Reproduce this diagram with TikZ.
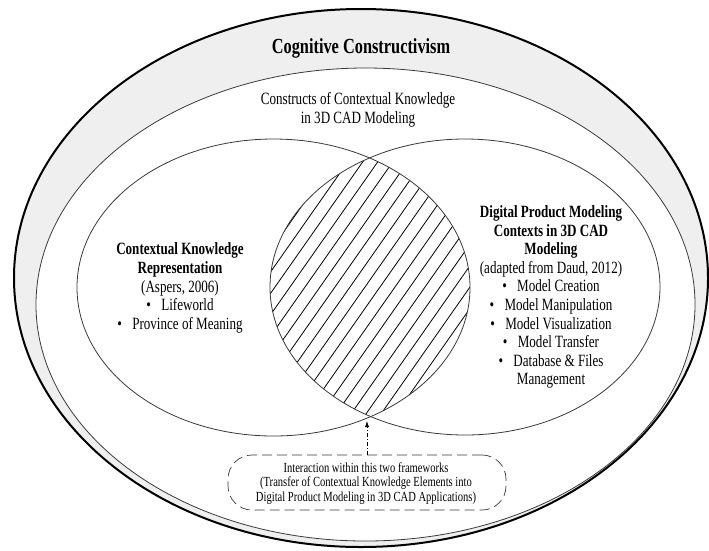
\documentclass[tikz,border=0pt]{standalone}
\usepackage{fontspec}
\setmainfont{Liberation Serif}[FakeStretch=0.76]
\usetikzlibrary{arrows.meta}
\definecolor{band}{HTML}{EFEFEF}
\definecolor{thinline}{HTML}{3A3A3A}
\tikzset{
  outerring/.style={draw=black, line width=2pt, fill=band},
  innerring/.style={draw=thinline, line width=0.8pt, fill=white},
  setline/.style={draw=thinline, line width=0.8pt},
  hatchline/.style={black, line width=0.8pt},
  titletext/.style={font=\fontsize{21.5}{24}\selectfont\bfseries, inner sep=0pt},
  bodytext/.style={align=center, font=\fontsize{17.2}{18.6}\selectfont, inner sep=0pt},
  boxtext/.style={align=center, font=\fontsize{13.9}{14.5}\selectfont, inner sep=0pt},
  dashbox/.style={draw=thinline, line width=0.7pt, dash pattern=on 10pt off 5pt,
    rounded corners=24pt, minimum width=278pt, minimum height=55pt},
  linkarrow/.style={draw=black, line width=0.6pt, dash pattern=on 4pt off 2pt on 1pt off 2pt,
    -{Latex[length=6pt,width=4pt]}}
}
\newcommand{\bul}{\textbullet\hspace{0.6em}}
\begin{document}
\begin{tikzpicture}[x=1pt,y=-1pt]
\useasboundingbox (0,0) rectangle (709,550);
% rings
\path[outerring] (361,278) ellipse [x radius=347pt, y radius=269pt];
\path[innerring] (365.5,304.5) ellipse [x radius=329.5pt, y radius=236.5pt];
% hatch in intersection
\begin{scope}
  \clip (273.5,287.5) ellipse [x radius=196.5pt, y radius=148.5pt];
  \clip (465,287) ellipse [x radius=195pt, y radius=148pt];
  \foreach \x in {230,245,...,500}
    \draw[hatchline] ({\x-115},451) -- ({\x+115},123);
\end{scope}
% sets
\path[setline] (273.5,287.5) ellipse [x radius=196.5pt, y radius=148.5pt];
\path[setline] (465,287) ellipse [x radius=195pt, y radius=148pt];
% texts
\node[titletext] (title) at (361,48) {Cognitive Constructivism};
\node[bodytext] (constructs) at (358,110) {Constructs of Contextual Knowledge\\in 3D CAD Modeling};
\node[bodytext] (leftset) at (180,288) {\textbf{Contextual Knowledge}\\\textbf{Representation}\\(Aspers, 2006)\\\bul Lifeworld\\\bul Province of Meaning};
\node[bodytext] (rightset) at (551,297) {\textbf{Digital Product Modeling}\\\textbf{Contexts in 3D CAD}\\\textbf{Modeling}\\(adapted from Daud, 2012)\\\bul Model Creation\\\bul Model Manipulation\\\bul Model Visualization\\\bul Model Transfer\\\bul Database \& Files\\Management};
% interaction box
\node[dashbox] (box) at (367,482.5) {};
\node[boxtext] (boxlabel) at (366,483.5) {Interaction within this two frameworks\\(Transfer of Contextual Knowledge Elements into\\Digital Product Modeling in 3D CAD Applications)};
\coordinate (meet) at (367,421);
\draw[linkarrow] (box.north) -- (meet);
\end{tikzpicture}
\end{document}
